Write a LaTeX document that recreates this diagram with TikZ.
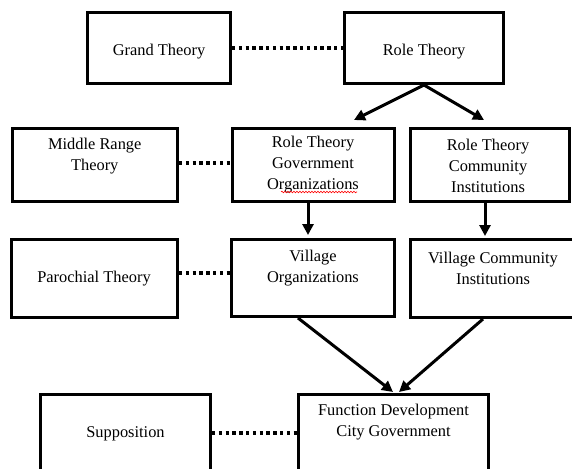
\documentclass[tikz,border=0pt]{standalone}
\usepackage{fontspec}
\setmainfont{Liberation Serif}
\usetikzlibrary{arrows.meta,decorations.pathmorphing,calc}
\begin{document}
\begin{tikzpicture}[x=1pt,y=-1pt,
 box/.style={draw,line width=3pt,rectangle,inner sep=0pt},
 txt/.style={align=center,inner sep=0pt,font=\fontsize{16.4}{21}\selectfont},
 dotline/.style={line width=3.2pt,dash pattern=on 3.4pt off 3.4pt},
 arr/.style={line width=3pt,-{Triangle[length=11pt,width=11pt]}},
 squiggle/.style={red,line width=0.6pt,decorate,decoration={snake,amplitude=0.8pt,segment length=3pt}}]
\useasboundingbox (0,0) rectangle (572,468);
\fill[white] (0,0) rectangle (572,468);
\clip (0,0) rectangle (572,468);
% boxes
\node[box,minimum width=143pt,minimum height=71pt] (grand) at (159,48) {};
\node[box,minimum width=159pt,minimum height=71pt] (role) at (424,48) {};
\node[box,minimum width=165.5pt,minimum height=73pt] (mid) at (94.75,164.5) {};
\node[box,minimum width=162.5pt,minimum height=73pt] (gov) at (313.25,165) {};
\node[box,minimum width=159pt,minimum height=73pt] (com) at (490,165) {};
\node[box,minimum width=166pt,minimum height=78pt] (par) at (94.5,278.5) {};
\node[box,minimum width=163pt,minimum height=77pt] (vo) at (313,278) {};
\node[box,minimum width=165pt,minimum height=78pt] (vc) at (493,278.5) {};
\node[box,minimum width=170pt,minimum height=90pt] (sup) at (125.5,439.5) {};
\node[box,minimum width=190pt,minimum height=90pt] (fun) at (393.5,439.5) {};
% texts
\node[txt] (tgrand) at (159,52) {Grand Theory};
\node[txt] (trole) at (424,52) {Role Theory};
\node[txt] (tmid) at (94.75,156) {Middle Range\\Theory};
\node[txt] (tgov) at (313,165) {Role Theory\\Government\\Organizations};
\node[txt] (tcom) at (488,166) {Role Theory\\Community\\Institutions};
\node[txt] (tpar) at (94,279) {Parochial Theory};
\node[txt] (tvo) at (313,268) {Village\\Organizations};
\node[txt] (tvc) at (493,268) {Village Community\\Institutions};
\node[txt] (tsup) at (125.5,434) {Supposition};
\node[txt] (tfun) at (393.5,422) {Function Development\\City Government};
% spell-check underline
\draw[squiggle] (281,192) -- (357,192);
% dotted links
\draw[dotline] (grand.east) -- (role.west);
\draw[dotline] (mid.east |- 0,163) -- (gov.west |- 0,163);
\draw[dotline] (par.east |- 0,273) -- (vo.west |- 0,273);
\draw[dotline] (sup.east |- 0,433) -- (fun.west |- 0,433);
% arrows
\coordinate (t1) at (354,120);
\coordinate (t2) at (484,120);
\coordinate (t3) at (308,235);
\coordinate (t4) at (485,236);
\coordinate (t5) at (393,392);
\coordinate (t6) at (399,392);
\draw[arr] (role.south) -- (t1);
\draw[arr] (role.south) -- (t2);
\draw[arr] (t3 |- gov.south) -- (t3);
\draw[arr] (t4 |- com.south) -- (t4);
\draw[arr] ($(vo.south)+(-15,0)$) -- (t5);
\draw[arr] ($(vc.south)+(-10,0)$) -- (t6);
\end{tikzpicture}
\end{document}
